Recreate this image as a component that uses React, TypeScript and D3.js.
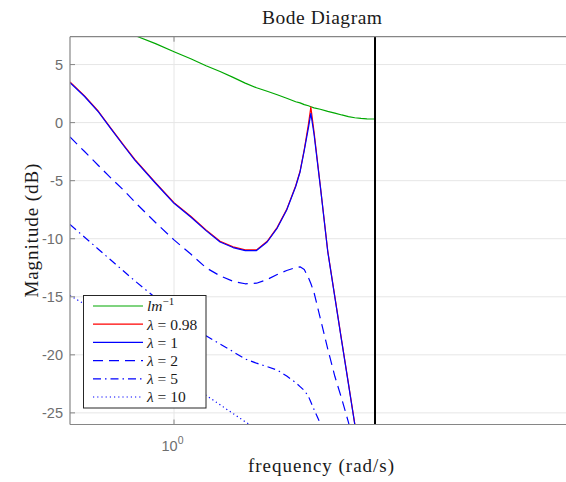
import React from 'react';
import * as d3 from 'd3';

// Frequency grid (rad/s) shared by every response curve
const freq = [0.553, 0.6, 0.65, 0.7, 0.75, 0.8, 0.9, 1.0, 1.1, 1.2, 1.3, 1.4, 1.5, 1.6, 1.7, 1.8, 1.9, 2.0, 2.05, 2.1, 2.15, 2.18, 2.22, 2.3, 2.4, 2.5, 2.6, 2.7, 2.8, 2.9, 3.0, 3.1416];

// Magnitudes in dB
const lmInv = [9.9, 9.4, 8.9, 8.4, 7.9, 7.5, 6.8, 6.1, 5.5, 4.9, 4.4, 3.9, 3.4, 3.0, 2.7, 2.4, 2.1, 1.8, 1.7, 1.55, 1.45, 1.37, 1.27, 1.15, 0.97, 0.82, 0.66, 0.52, 0.42, 0.36, 0.33, 0.31];
const lambda098 = [3.5, 2.33, 0.98, -0.53, -1.91, -3.17, -5.16, -6.89, -8.07, -9.24, -10.22, -10.7, -10.96, -10.96, -10.22, -9.02, -7.47, -5.44, -4.19, -2.3, -0.15, 1.34, -0.8, -5.39, -11.04, -15.01, -18.82, -22.44, -25.94, -29.5, -33, -37];
const lambda1 = [3.44, 2.27, 0.92, -0.59, -1.97, -3.23, -5.22, -6.95, -8.13, -9.3, -10.28, -10.76, -11.02, -11.02, -10.28, -9.08, -7.53, -5.5, -4.25, -2.4, -0.45, 0.8, -1.0, -5.45, -11.1, -15.07, -18.88, -22.5, -26.0, -29.5, -33, -37];
const lambda2 = [-1.24, -2.47, -3.69, -4.81, -5.81, -6.84, -8.6, -10.1, -11.32, -12.5, -13.2, -13.67, -13.88, -13.83, -13.51, -13.08, -12.74, -12.48, -12.42, -12.65, -13.35, -13.85, -14.64, -16.83, -19.48, -21.87, -23.8, -25.8, -28, -30, -32, -34];
const lambda5 = [-8.78, -9.85, -10.9, -11.88, -12.78, -13.63, -15.08, -16.28, -17.36, -18.35, -19.07, -19.73, -20.36, -20.72, -21.02, -21.31, -21.83, -22.39, -22.74, -23.07, -23.57, -24.07, -24.7, -25.9, -28.5, -31, -33, -35, -37, -39, -41, -43];
const lambda10 = [-14.9, -15.62, -16.54, -17.38, -18.16, -18.9, -20.23, -21.43, -22.5, -23.49, -24.3, -25.06, -25.76, -26.4, -27.0, -27.6, -28.2, -28.8, -29.1, -29.4, -29.7, -29.9, -30.2, -30.8, -31.6, -32.4, -33.3, -34.2, -35.1, -36, -37, -38];

// Nyquist frequency marker (rad/s)
const nyquist = 3.1416;

const yTicks = [-25, -20, -15, -10, -5, 0, 5];
const xTicks = [1];

const W = 566;
const H = 482;
const left = 70;
const right = 578.3;
const top = 36.7;
const bottom = 424.5;

const serif = '"Liberation Serif", "DejaVu Serif", serif';
const sans = '"Liberation Sans", Arial, sans-serif';

type Series = { name: 'lm' | number; values: number[]; color: string; dash?: string };

const series: Series[] = [
  { name: 'lm', values: lmInv, color: '#00a800' },
  { name: 0.98, values: lambda098, color: '#ff0000' },
  { name: 1, values: lambda1, color: '#0000ff' },
  { name: 2, values: lambda2, color: '#0000ff', dash: '10,6' },
  { name: 5, values: lambda5, color: '#0000ff', dash: '8,4,1.5,4' },
  { name: 10, values: lambda10, color: '#0000ff', dash: '1.2,3' },
];

export default function App() {
  const x = d3.scaleLog().domain([0.553, 10]).range([left, right]);
  const y = d3.scaleLinear().domain([-26, 7.4]).range([bottom, top]);

  const line = (vals: number[]) =>
    d3
      .line<number>()
      .x((_, i) => x(freq[i]))
      .y((d) => y(d))(vals) || '';

  const axisColor = '#868686';
  const gridColor = '#e6e6e6';

  const legendX = 83.5;
  const legendY = 295.5;
  const legendW = 122.5;
  const legendH = 112.5;
  const rowY = (i: number) => 306 + i * 18.2;

  return (
    <svg
      width={W}
      height={H}
      style={{ position: 'absolute', left: 0, top: 0, background: '#fff' }}
    >
      <defs>
        <clipPath id="plotArea">
          <rect x={left} y={top} width={right - left} height={bottom - top} />
        </clipPath>
      </defs>
      <rect x={0} y={0} width={W} height={H} fill="#fff" />

      {/* grid */}
      {yTicks.map((t) => (
        <line key={'gy' + t} x1={left} x2={right} y1={y(t)} y2={y(t)} stroke={gridColor} strokeWidth={1} />
      ))}
      {xTicks.map((t) => (
        <line key={'gx' + t} x1={x(t)} x2={x(t)} y1={top} y2={bottom} stroke={gridColor} strokeWidth={1} />
      ))}

      {/* response curves */}
      <g clipPath="url(#plotArea)">
        {series.map((s, k) => (
          <path
            key={k}
            d={line(s.values)}
            fill="none"
            stroke={s.color}
            strokeWidth={1.2}
            strokeDasharray={s.dash}
            strokeLinejoin="round"
          />
        ))}
        <line x1={x(nyquist)} x2={x(nyquist)} y1={top} y2={bottom} stroke="#000" strokeWidth={2} />
      </g>

      {/* axes box */}
      <line x1={left} x2={right} y1={top} y2={top} stroke={axisColor} strokeWidth={1.2} />
      <line x1={left} x2={right} y1={bottom} y2={bottom} stroke={axisColor} strokeWidth={1.2} />
      <line x1={left} x2={left} y1={top} y2={bottom} stroke={axisColor} strokeWidth={1.2} />

      {/* ticks */}
      {yTicks.map((t) => (
        <line key={'ty' + t} x1={left} x2={left + 5} y1={y(t)} y2={y(t)} stroke={axisColor} strokeWidth={1} />
      ))}
      {xTicks.map((t) => (
        <g key={'tx' + t}>
          <line x1={x(t)} x2={x(t)} y1={top} y2={top + 5} stroke={axisColor} strokeWidth={1} />
          <line x1={x(t)} x2={x(t)} y1={bottom} y2={bottom - 5} stroke={axisColor} strokeWidth={1} />
        </g>
      ))}

      {/* tick labels */}
      {yTicks.map((t) => (
        <text
          key={'ly' + t}
          x={63}
          y={y(t)}
          dy="0.36em"
          textAnchor="end"
          fontFamily={sans}
          fontSize={14.5}
          fill="#6e6e6e"
        >
          {t}
        </text>
      ))}
      {xTicks.map((t) => (
        <text key={'lx' + t} x={x(t) - 1.5} y={451} textAnchor="middle" fontFamily={sans} fontSize={14.5} fill="#6e6e6e">
          10
          <tspan fontSize={10.5} dy={-7}>
            {Math.round(Math.log10(t))}
          </tspan>
        </text>
      ))}

      {/* titles */}
      <text x={322} y={23.5} textAnchor="middle" fontFamily={serif} fontSize={19.5} textLength={120} lengthAdjust="spacing" fill="#1a1a1a">
        Bode Diagram
      </text>
      <text x={321} y={472} textAnchor="middle" fontFamily={serif} fontSize={19} textLength={146} lengthAdjust="spacing" fill="#1a1a1a">
        frequency (rad/s)
      </text>
      <text
        transform={`translate(37.5, ${(top + bottom) / 2}) rotate(-90)`}
        textAnchor="middle"
        fontFamily={serif}
        fontSize={19}
        textLength={134}
        lengthAdjust="spacing"
        fill="#1a1a1a"
      >
        Magnitude (dB)
      </text>

      {/* legend */}
      <rect x={legendX} y={legendY} width={legendW} height={legendH} fill="#fff" stroke="#262626" strokeWidth={1} />
      {series.map((s, i) => (
        <g key={'lg' + i}>
          <line x1={93} x2={143} y1={rowY(i)} y2={rowY(i)} stroke={s.color} strokeWidth={1.2} strokeDasharray={s.dash} />
          <text x={147} y={rowY(i)} dy="0.35em" fontFamily={serif} fontSize={15.5} fill="#1a1a1a">
            {s.name === 'lm' ? (
              <>
                <tspan fontStyle="italic">lm</tspan>
                <tspan fontSize={11} dy={-6}>−1</tspan>
              </>
            ) : (
              <>
                <tspan fontStyle="italic">λ</tspan>
                <tspan> = {String(s.name)}</tspan>
              </>
            )}
          </text>
        </g>
      ))}
    </svg>
  );
}
